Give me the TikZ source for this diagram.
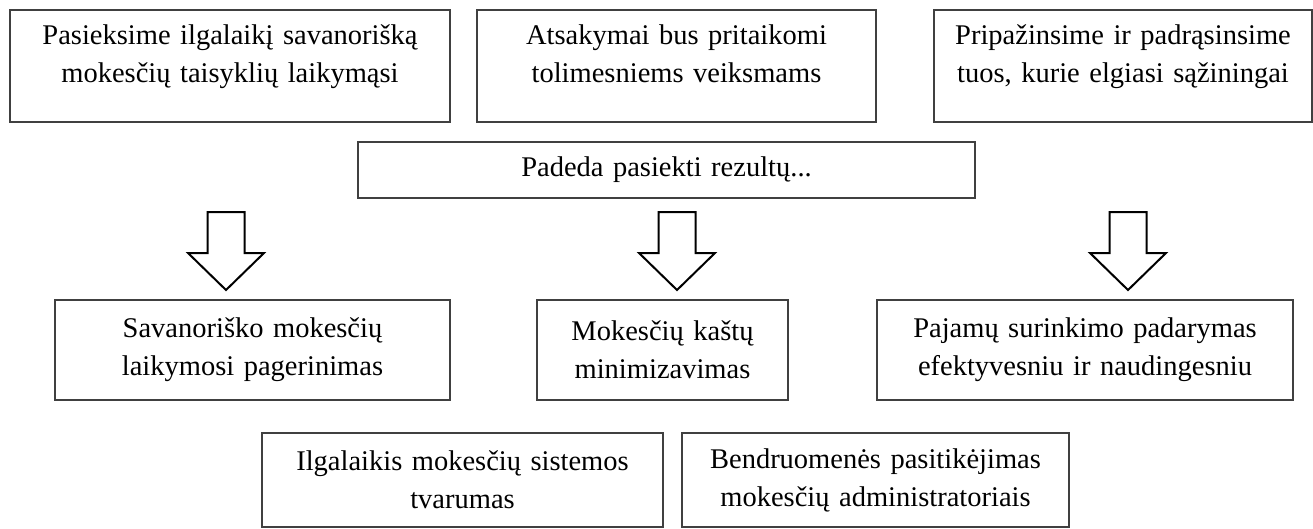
\documentclass[tikz,border=0pt]{standalone}
\usepackage{fontspec}
\setmainfont{Liberation Serif}
\usetikzlibrary{positioning}

\tikzset{
  box/.style = {draw = black!75, line width = 1.3pt, align = center, inner sep = 0pt,
                font = \fontsize{28.5}{38}\selectfont},
  topbox/.style = {box, minimum height = 112pt, text depth = 62pt},
  blockarrow/.style = {draw = black, line width = 2pt, fill = white, line join = miter}
}

\begin{document}
\begin{tikzpicture}[x=1pt, y=-1pt]
        \useasboundingbox (0,0) rectangle (1313,528);
        % top row
        \node [topbox, text width = 440pt] (tikslas1) at (230,66) {Pasieksime ilgalaikį savanorišką\\mokesčių taisyklių laikymąsi};
        \node [topbox, text width = 399pt] (tikslas2) at (676.5,66) {Atsakymai bus pritaikomi\\tolimesniems veiksmams};
        \node [topbox, text width = 378pt] (tikslas3) at (1123,66) {Pripažinsime ir padrąsinsime\\tuos, kurie elgiasi sąžiningai};
        % middle
        \node [box, text width = 617pt, minimum height = 56pt] (padeda) at (666.5,170) {Padeda pasiekti rezultų...};
        % block arrows
        \foreach \ax in {226,677,1128} {
          \draw [blockarrow] (\ax-18.5,212) -- (\ax+18.5,212) -- (\ax+18.5,253) -- (\ax+38,253)
                -- (\ax,290) -- (\ax-38,253) -- (\ax-18.5,253) -- cycle;
        }
        % results
        \node [box, text width = 395pt, minimum height = 100pt] (rez1) at (252.5,350) {Savanoriško mokesčių\\laikymosi pagerinimas};
        \node [box, text width = 251pt, minimum height = 100pt] (rez2) at (662.5,350) {Mokesčių kaštų\\minimizavimas};
        \node [box, text width = 416pt, minimum height = 100pt] (rez3) at (1085,350) {Pajamų surinkimo padarymas\\efektyvesniu ir naudingesniu};
        % bottom row
        \node [box, text width = 401pt, minimum height = 94pt] (rez4) at (462.5,480) {Ilgalaikis mokesčių sistemos\\tvarumas};
        \node [box, text width = 387pt, minimum height = 94pt] (rez5) at (875.5,480) {Bendruomenės pasitikėjimas\\mokesčių administratoriais};
\end{tikzpicture}
\end{document}
